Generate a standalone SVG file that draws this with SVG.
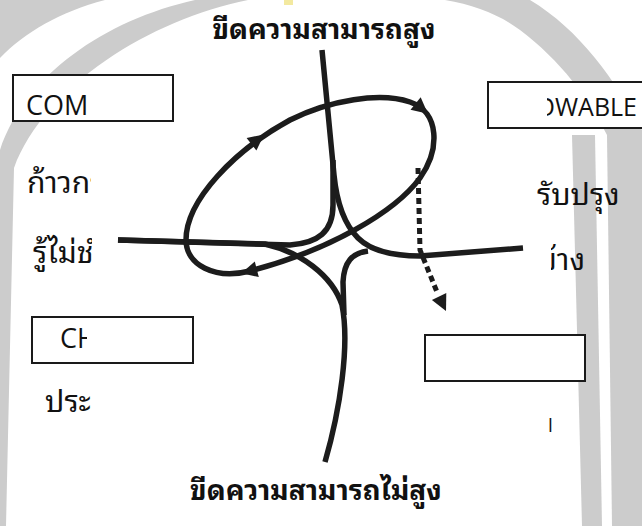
<svg xmlns="http://www.w3.org/2000/svg" width="642" height="526" viewBox="0 0 642 526">
<style>
.wm{fill:#cccccc}
.box{fill:#ffffff;stroke:#1a1a1a;stroke-width:2}
.lat{font-family:'Open Sans','Noto Sans',sans-serif;font-size:27px;fill:#111}
.th{font-family:'Noto Sans Thai Looped','Loma','Garuda','Noto Sans Thai','Noto Sans',sans-serif;font-size:30px;fill:#111}
.thb{font-family:'Noto Sans Thai Looped','Loma','Garuda','Noto Sans Thai','Noto Sans',sans-serif;font-size:28px;font-weight:bold;fill:#111}
.ln{fill:none;stroke:#1c1c1c;stroke-width:5.5;stroke-linecap:butt;stroke-linejoin:round}
.dot{fill:none;stroke:#1c1c1c;stroke-width:5;stroke-dasharray:6 4}
.ah{fill:#1c1c1c}
</style>
<defs>
<clipPath id="cWable"><rect x="547" y="80" width="95" height="50"/></clipPath>
<clipPath id="cCh"><rect x="34" y="319" width="53" height="42"/></clipPath>
<clipPath id="cKao"><rect x="0" y="150" width="91" height="60"/></clipPath>
<clipPath id="cRu"><rect x="0" y="215" width="92" height="65"/></clipPath>
<clipPath id="cBang"><rect x="551" y="215" width="60" height="65"/></clipPath>
</defs>
<rect width="642" height="526" fill="#ffffff"/>
<g id="watermark">
<path class="wm" d="M0,0 L105,0 C60,12 25,32 0,58 Z"/>
<path class="wm" d="M0,526 L0,150 C25,75 105,20 195,0 L248,0 C150,20 45,85 14,168 L6,526 Z"/>
<path class="wm" d="M445,0 L530,0 C580,30 615,80 642,130 L642,135 L607,135 C590,100 560,60 520,30 C500,15 475,5 445,0 Z"/>
<path class="wm" d="M572,135 L595,135 L602,526 L582,526 Z"/>
<path class="wm" d="M607,135 L642,135 L642,526 L612,526 Z"/>
<rect x="284" y="0" width="9" height="5" fill="#f3e9a0"/>
</g>
<g id="title-top"><text class="thb" x="324" y="39" text-anchor="middle">ขีดความสามารถสูง</text></g>
<g id="title-bottom"><text class="thb" x="316" y="500" text-anchor="middle">ขีดความสามารถไม่สูง</text></g>
<g id="node-com"><rect class="box" x="13" y="75" width="160" height="46"/><text class="lat" x="26" y="115">COM</text></g>
<g id="node-wable"><rect class="box" x="488" y="82" width="160" height="46"/><text class="lat" x="637" y="116" text-anchor="end" style="font-size:25px" clip-path="url(#cWable)">OWABLE</text></g>
<g id="node-ch"><rect class="box" x="32" y="317" width="161" height="46"/><text class="lat" x="60" y="348" clip-path="url(#cCh)">CH</text></g>
<g id="node-br"><rect class="box" x="425" y="335" width="160" height="46"/></g>
<g id="labels">
<text class="th" x="27" y="193" clip-path="url(#cKao)">ก้าวกระ</text>
<text class="th" x="33" y="263" clip-path="url(#cRu)">รู้ไม่ชำ</text>
<text class="th" x="537" y="205">รับปรุง</text>
<text class="th" x="585" y="270" text-anchor="end" clip-path="url(#cBang)">บ้าง</text>
<text class="th" x="45" y="412">ประ</text>
<text x="548" y="432" style="font-family:'Open Sans',sans-serif;font-size:19px;fill:#111">l</text>
</g>
<g id="connectors">
<path class="ln" d="M322,50 L334,175 C337,205 346,226 358,238 C370,250 390,256 420,256 L523,248"/>
<path class="ln" d="M333,160 L333,205 C333,232 318,243 290,245 L118,240"/>
<path class="ln" d="M118,240 L265,244 C300,252 332,275 342,305 C350,345 340,410 325,462"/>
<path class="ln" d="M368,251 C352,253 344,262 343,282 L344,315"/>
<path class="ln" d="M250,271 C215,280 186,265 186,240 C186,200 235,150 290,120 C330,100 380,92 410,102 C440,112 440,150 420,178 C395,212 330,250 250,271 Z"/>
<path class="dot" d="M418,168 L420,250 L437,292"/>
<polygon class="ah" points="264.1,134.4 256.4,150.6 246.6,138"/>
<polygon class="ah" points="427.9,113.8 410.5,109.7 420.7,97.3"/>
<polygon class="ah" points="241.3,273.2 258.8,277 254.8,261.6"/>
<polygon class="ah" points="446,311 446.3,293 431.9,300"/>
</g>
</svg>
